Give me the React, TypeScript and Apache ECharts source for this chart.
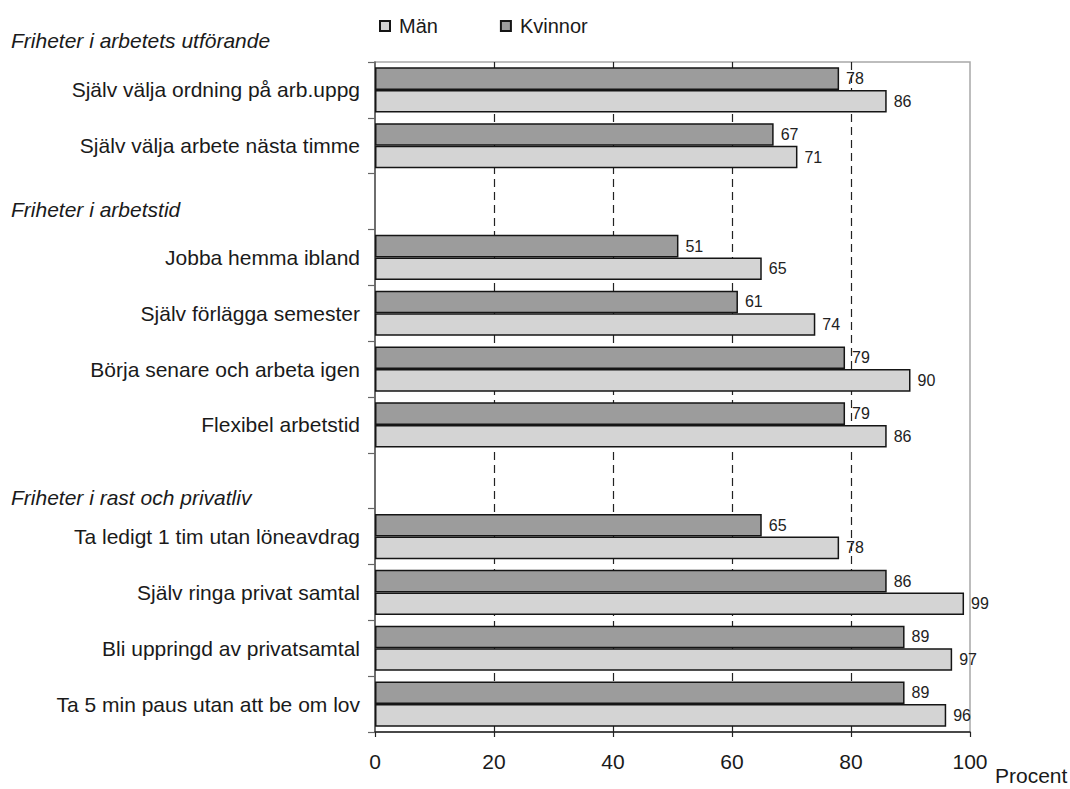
import React, { useEffect, useRef } from "react";
import * as echarts from "echarts";

const categories = [
  "Själv välja ordning på arb.uppg",
  "Själv välja arbete nästa timme",
  "",
  "Jobba hemma ibland",
  "Själv förlägga semester",
  "Börja senare och arbeta igen",
  "Flexibel arbetstid",
  " ",
  "Ta ledigt 1 tim utan löneavdrag",
  "Själv ringa privat samtal",
  "Bli uppringd av privatsamtal",
  "Ta 5 min paus utan att be om lov",
];

const kvinnor = [78, 67, null, 51, 61, 79, 79, null, 65, 86, 89, 89];
const man = [86, 71, null, 65, 74, 90, 86, null, 78, 99, 97, 96];

const sectionHeaders = [
  "Friheter i arbetets utförande",
  "Friheter i arbetstid",
  "Friheter i rast och privatliv",
];

const xTicks = { min: 0, max: 100, interval: 20 };

const FONT = "'Liberation Sans', Arial, Helvetica, sans-serif";

export default function App() {
  const ref = useRef<HTMLDivElement>(null);

  useEffect(() => {
    if (!ref.current) return;
    const chart = echarts.init(ref.current, undefined, { renderer: "svg" });
    const headerY = [42, 211, 499];
    const valueLabel = {
      show: true,
      position: "right",
      distance: 7,
      fontSize: 16,
      color: "#222",
      fontFamily: FONT,
    };
    chart.setOption({
      animation: false,
      backgroundColor: "#ffffff",
      textStyle: { fontFamily: FONT },
      grid: {
        left: 375,
        right: 100,
        top: 62,
        bottom: 57,
        show: true,
        borderColor: "#a8a8a8",
        borderWidth: 1.5,
        backgroundColor: "transparent",
      },
      legend: {
        data: ["Män", "Kvinnor"],
        left: 374,
        top: 11,
        icon: "rect",
        itemWidth: 10,
        itemHeight: 10,
        itemGap: 62,
        textStyle: {
          fontSize: 20,
          color: "#1a1a1a",
          fontFamily: FONT,
          padding: [0, 0, 0, 4],
        },
      },
      xAxis: {
        type: "value",
        min: xTicks.min,
        max: xTicks.max,
        interval: xTicks.interval,
        axisLine: { show: true, lineStyle: { color: "#222", width: 1.5 } },
        axisTick: { show: true, length: 5, lineStyle: { color: "#222", width: 1.2 } },
        axisLabel: { fontSize: 21, color: "#1a1a1a", margin: 19, fontFamily: FONT },
        splitLine: {
          show: true,
          showMinLine: false,
          showMaxLine: false,
          lineStyle: { color: "#222", width: 1.2, type: [8, 5] },
        },
      },
      yAxis: {
        type: "category",
        inverse: true,
        data: categories,
        axisLine: { show: true, lineStyle: { color: "#555", width: 1.5 } },
        axisTick: { show: true, length: 7, alignWithLabel: false, lineStyle: { color: "#666", width: 1.2 } },
        axisLabel: { fontSize: 21, color: "#1a1a1a", margin: 15, fontFamily: FONT },
        splitLine: { show: false },
      },
      series: [
        {
          name: "Kvinnor",
          type: "bar",
          data: kvinnor,
          barGap: "0%",
          barCategoryGap: "19%",
          itemStyle: { color: "#9c9c9c", borderColor: "#151515", borderWidth: 1.5 },
          label: valueLabel,
          z: 3,
        },
        {
          name: "Män",
          type: "bar",
          data: man,
          barGap: "0%",
          barCategoryGap: "19%",
          itemStyle: { color: "#d4d4d4", borderColor: "#151515", borderWidth: 1.5 },
          label: valueLabel,
          z: 3,
        },
      ],
      graphic: [
        ...sectionHeaders.map((t, i) => ({
          type: "text",
          left: 11,
          top: headerY[i] - 12,
          style: {
            text: t,
            fontSize: 21,
            fontStyle: "italic",
            fill: "#1a1a1a",
            fontFamily: FONT,
          },
        })),
        {
          type: "text",
          left: 995,
          top: 765,
          style: { text: "Procent", fontSize: 21, fill: "#1a1a1a", fontFamily: FONT },
        },
      ],
    });
    return () => chart.dispose();
  }, []);

  return (
    <div
      ref={ref}
      style={{ position: "fixed", left: 0, top: 0, width: 1070, height: 789 }}
    />
  );
}
